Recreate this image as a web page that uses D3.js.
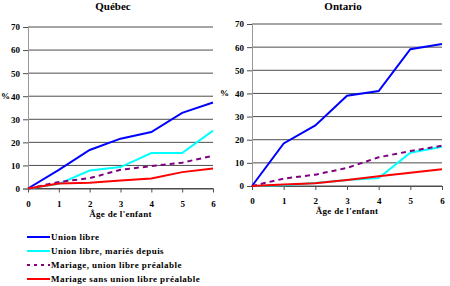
<!DOCTYPE html>
<html>
<head>
<meta charset="utf-8">
<script src="https://cdn.jsdelivr.net/npm/d3@7"></script>
<style>
  body { margin: 0; background: #fff; }
  svg { display: block; }
  text { font-family: "Liberation Serif", "Times New Roman", serif; font-weight: bold; fill: #000; }
</style>
</head>
<body>
<svg id="chart" width="450" height="286"></svg>
<script>
// ---- data ----
var ages = [0, 1, 2, 3, 4, 5, 6];
var yTicks = [0, 10, 20, 30, 40, 50, 60, 70];
var panelTitles = ["Québec", "Ontario"];
var seriesNames = ["Union libre", "Union libre, mariés depuis", "Mariage, union libre préalable", "Mariage sans union libre préalable"];

var quebecUnion = [0, 8.1, 16.7, 21.6, 24.5, 32.8, 37.3];
var quebecUnionMaries = [0, 2.0, 7.8, 9.3, 15.4, 15.4, 25.1];
var quebecMariageUnion = [0, 2.8, 4.5, 8.1, 9.7, 11.2, 14.2];
var quebecMariageSans = [0, 2.2, 2.5, 3.5, 4.3, 7.1, 8.7];

var ontarioUnion = [0, 18.4, 26.2, 39.0, 41.0, 59.1, 61.4];
var ontarioUnionMaries = [0, 0.3, 1.3, 2.6, 3.4, 14.4, 17.0];
var ontarioMariageUnion = [0, 3.2, 4.9, 7.8, 12.4, 15.1, 17.4];
var ontarioMariageSans = [0, 0.6, 1.2, 2.6, 4.2, 5.7, 7.2];

// ---- styles ----
var seriesColors = ["#0000ff", "#00ffff", "#800080", "#ff0000"];
var seriesDash = [null, null, "5,4", null];

var svg = d3.select("#chart");

var panels = [
    { title: panelTitles[0], left: 28, right: 213, top: 27, bottom: 188.5, titleX: 113, pctX: 10,
      series: [quebecUnion, quebecUnionMaries, quebecMariageUnion, quebecMariageSans] },
    { title: panelTitles[1], left: 252, right: 442, top: 24, bottom: 186, titleX: 343, pctX: 229,
      series: [ontarioUnion, ontarioUnionMaries, ontarioMariageUnion, ontarioMariageSans] }
];

function styleTicks(a) {
    a.selectAll(".tick text")
        .style("font-size", "9px")
        .style("font-family", "Liberation Serif")
        .style("font-weight", "bold")
        .style("fill", "#000");
}

panels.forEach(function (p) {
    var x = d3.scaleLinear().domain([0, 6]).range([p.left, p.right]);
    var y = d3.scaleLinear().domain([0, 70]).range([p.bottom, p.top]);

    var g = svg.append("g");

    // gridlines
    g.selectAll(".grid")
        .data(yTicks)
        .enter()
        .append("line")
        .attr("x1", p.left)
        .attr("x2", p.right)
        .attr("y1", function (d) { return y(d); })
        .attr("y2", function (d) { return y(d); })
        .style("stroke", "#4d4d4d")
        .style("stroke-width", 1);

    // y axis
    var yAxis = d3.axisLeft(y).tickValues(yTicks).tickFormat(d3.format("d")).tickSize(5).tickPadding(3);
    g.append("g")
        .attr("transform", "translate(" + p.left + ",0)")
        .call(yAxis)
        .call(function (a) { a.select(".domain").style("stroke", "#999"); })
        .call(function (a) { a.selectAll(".tick line").style("stroke", "#4d4d4d"); })
        .call(styleTicks);

    // x axis
    var xAxis = d3.axisBottom(x).tickValues(ages).tickFormat(d3.format("d")).tickSize(4).tickPadding(8).tickSizeOuter(0);
    g.append("g")
        .attr("transform", "translate(0," + p.bottom + ")")
        .call(xAxis)
        .call(function (a) { a.select(".domain").style("stroke", "#4d4d4d"); })
        .call(function (a) { a.selectAll(".tick line").style("stroke", "#4d4d4d"); })
        .call(styleTicks);

    // lines
    var line = d3.line()
        .x(function (d, i) { return x(ages[i]); })
        .y(function (d) { return y(d); });

    g.selectAll(".series")
        .data(p.series)
        .enter()
        .append("path")
        .attr("d", line)
        .style("fill", "none")
        .style("stroke", function (d, i) { return seriesColors[i]; })
        .style("stroke-width", 2)
        .style("stroke-dasharray", function (d, i) { return seriesDash[i]; });

    // titles
    g.append("text")
        .attr("x", p.titleX)
        .attr("y", 10)
        .attr("text-anchor", "middle")
        .style("font-size", "11px")
        .text(p.title);

    g.append("text")
        .attr("x", (p.left + p.right) / 2)
        .attr("y", p.bottom + 28)
        .attr("text-anchor", "middle")
        .style("font-size", "9px")
        .style("letter-spacing", "0.3px")
        .text("Âge de l'enfant");

    g.append("text")
        .attr("x", p.pctX)
        .attr("y", y(40) + 3)
        .attr("text-anchor", "end")
        .style("font-size", "9px")
        .text("%");
});

// legend
var legendY = d3.scalePoint().domain(seriesNames).range([237, 279]);
var legend = svg.append("g");
legend.selectAll(".legLine")
    .data(seriesNames)
    .enter()
    .append("line")
    .attr("x1", 27)
    .attr("x2", 50)
    .attr("y1", function (d) { return legendY(d); })
    .attr("y2", function (d) { return legendY(d); })
    .style("stroke", function (d, i) { return seriesColors[i]; })
    .style("stroke-width", 2)
    .style("stroke-dasharray", function (d, i) { return seriesDash[i] ? "3,4" : null; });

legend.selectAll(".legText")
    .data(seriesNames)
    .enter()
    .append("text")
    .attr("x", 51)
    .attr("y", function (d) { return legendY(d) + 3; })
    .style("font-size", "9px")
    .style("letter-spacing", "0.45px")
    .text(function (d) { return d; });
</script>
</body>
</html>
